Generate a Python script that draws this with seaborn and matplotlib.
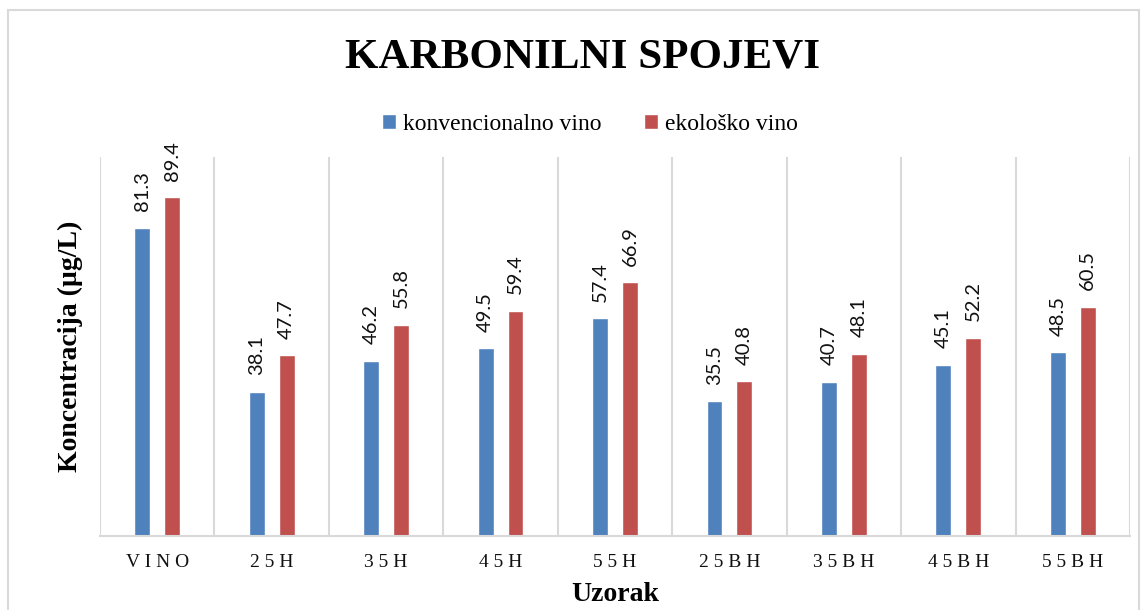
import pandas as pd
import matplotlib.pyplot as plt
import seaborn as sns
from matplotlib.patches import Rectangle

# Data
categories = ["VINO", "25H", "35H", "45H", "55H", "25BH", "35BH", "45BH", "55BH"]
konvencionalno = [81.3, 38.1, 46.2, 49.5, 57.4, 35.5, 40.7, 45.1, 48.5]
ekolosko = [89.4, 47.7, 55.8, 59.4, 66.9, 40.8, 48.1, 52.2, 60.5]
series_names = ["konvencionalno vino", "ekološko vino"]

df = pd.DataFrame({
    "Uzorak": categories * 2,
    "value": konvencionalno + ekolosko,
    "serija": [series_names[0]] * len(categories) + [series_names[1]] * len(categories),
})

sns.set_theme(style="white")
plt.rcParams["font.family"] = ["Liberation Serif", "DejaVu Serif"]
plt.rcParams["text.color"] = "black"
plt.rcParams["axes.labelcolor"] = "black"

fig = plt.figure(figsize=(11.47, 6.10), dpi=100)
ax = fig.add_axes([100 / 1147, 1 - 536 / 610, 1030 / 1147, (536 - 157) / 610])

sns.barplot(data=df, x="Uzorak", y="value", hue="serija",
            palette=["#4F81BD", "#C0504D"], width=0.524, gap=0.47,
            saturation=1, ax=ax, legend=True)

# value labels, rotated
for cont in ax.containers:
    ax.bar_label(cont, fmt="%.1f", rotation=90, padding=12,
                 fontsize=14.5, family=["Lato", "DejaVu Sans"], color="#111111")

ax.set_ylim(0, 100)
ax.set_xlim(-0.5, len(categories) - 0.5)
ax.set_yticks([])
ax.set_xticks(range(len(categories)))
ax.set_xticklabels([" ".join(c) for c in categories], fontsize=14, color="#111111")
ax.tick_params(axis="x", length=0, pad=13)

# separators between categories
ax.set_xticks([i - 0.5 for i in range(len(categories) + 1)], minor=True)
ax.grid(which="minor", axis="x", color="#D9D9D9", linewidth=1.5)
ax.tick_params(which="minor", length=0)
for s in ["top", "left", "right"]:
    ax.spines[s].set_visible(False)
ax.spines["bottom"].set_color("#D9D9D9")
ax.spines["bottom"].set_linewidth(1.5)

ax.set_xlabel("Uzorak", fontsize=20, fontweight="bold", labelpad=8)
ax.set_ylabel("Koncentracija (µg/L)", fontsize=20, fontweight="bold", labelpad=12)

# legend above the plot
handles, labels = ax.get_legend_handles_labels()
ax.legend_.remove()
fig.legend(handles, labels, loc="center", bbox_to_anchor=(590 / 1147, 1 - 124 / 610),
           ncol=2, frameon=False, fontsize=17, handlelength=0.6, handleheight=0.6,
           handletextpad=0.3, columnspacing=1.8)

fig.text(583 / 1147, 1 - 57 / 610, "KARBONILNI SPOJEVI",
         ha="center", va="center", fontsize=31, fontweight="bold")

# chart border
fig.patches.append(Rectangle((8 / 1147, -0.05), 1131 / 1147, 1.05 - 10 / 610,
                             transform=fig.transFigure, fill=False,
                             edgecolor="#D9D9D9", linewidth=1.5))

fig.savefig("out.png", dpi=100)
